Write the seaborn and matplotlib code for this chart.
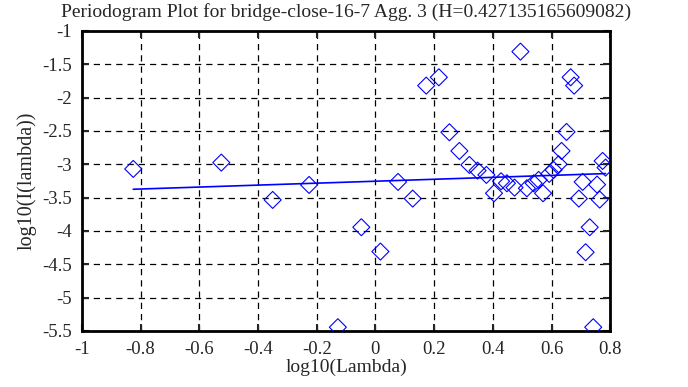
import pandas as pd
import matplotlib
matplotlib.use('Agg')
import matplotlib.pyplot as plt
import seaborn as sns

# periodogram points (log10 lambda, log10 I(lambda))
log_lambda = [-0.825, -0.525, -0.350, -0.226, -0.128, -0.048, 0.017, 0.077, 0.127,
              0.173, 0.216, 0.252, 0.286, 0.320, 0.348, 0.378, 0.404, 0.428, 0.448,
              0.474, 0.494, 0.516, 0.539, 0.556, 0.571, 0.592, 0.607, 0.624, 0.634,
              0.651, 0.665, 0.677, 0.693, 0.706, 0.716, 0.730, 0.742, 0.755, 0.764,
              0.774, 0.784]
log_I = [-3.07, -2.975, -3.535, -3.31, -5.445, -3.945, -4.31, -3.265, -3.515,
         -1.82, -1.695, -2.52, -2.80, -3.01, -3.095, -3.16, -3.435, -3.255, -3.285,
         -3.35, -1.31, -3.36, -3.285, -3.235, -3.435, -3.145, -3.085, -3.0, -2.80,
         -2.515, -1.695, -1.82, -3.515, -3.265, -4.32, -3.945, -5.445, -3.305, -3.53,
         -2.95, -3.05]

# least squares fit line endpoints
fit_x = [-0.825, 0.784]
fit_y = [-3.375, -3.14]

x_ticks = [-1, -0.8, -0.6, -0.4, -0.2, 0, 0.2, 0.4, 0.6, 0.8]
y_ticks = [-1, -1.5, -2, -2.5, -3, -3.5, -4, -4.5, -5, -5.5]

df = pd.DataFrame({'x': log_lambda, 'y': log_I})
fit = pd.DataFrame({'x': fit_x, 'y': fit_y})

sns.set_style('white')
plt.rcParams['font.family'] = ['Liberation Serif', 'DejaVu Serif']
plt.rcParams['axes.unicode_minus'] = False

fig = plt.figure(figsize=(6.88, 3.87), dpi=100)
ax = fig.add_axes([0.119, 0.145, 0.768, 0.775])

sns.scatterplot(x='x', y='y', data=df, ax=ax, marker='D', s=75,
                facecolors='none', edgecolor='blue', linewidth=0.8, zorder=3)
sns.lineplot(x='x', y='y', data=fit, ax=ax, color='blue', linewidth=1.2, zorder=4)

ax.set_xlim(-1, 0.8)
ax.set_ylim(-5.5, -1)
ax.set_xticks(x_ticks)
ax.set_xticklabels([f'{t:g}' for t in x_ticks])
ax.set_yticks(y_ticks)
ax.set_yticklabels([f'{t:g}' for t in y_ticks])
ax.grid(True, color='black', linestyle=(0, (5, 4)), linewidth=0.9)
ax.tick_params(direction='in', length=5, width=1.5, labelsize=13.5,
               top=True, right=True, bottom=True, left=True, pad=7)
for sp in ax.spines.values():
    sp.set_linewidth(2)
    sp.set_color('black')

ax.set_title('Periodogram Plot for bridge-close-16-7 Agg. 3 (H=0.427135165609082)',
             fontsize=14, pad=10)
ax.set_xlabel('log10(Lambda)', fontsize=14, labelpad=1)
ax.set_ylabel('log10(I(lambda))', fontsize=14.5, labelpad=4)

plt.savefig('out.png', dpi=100)
